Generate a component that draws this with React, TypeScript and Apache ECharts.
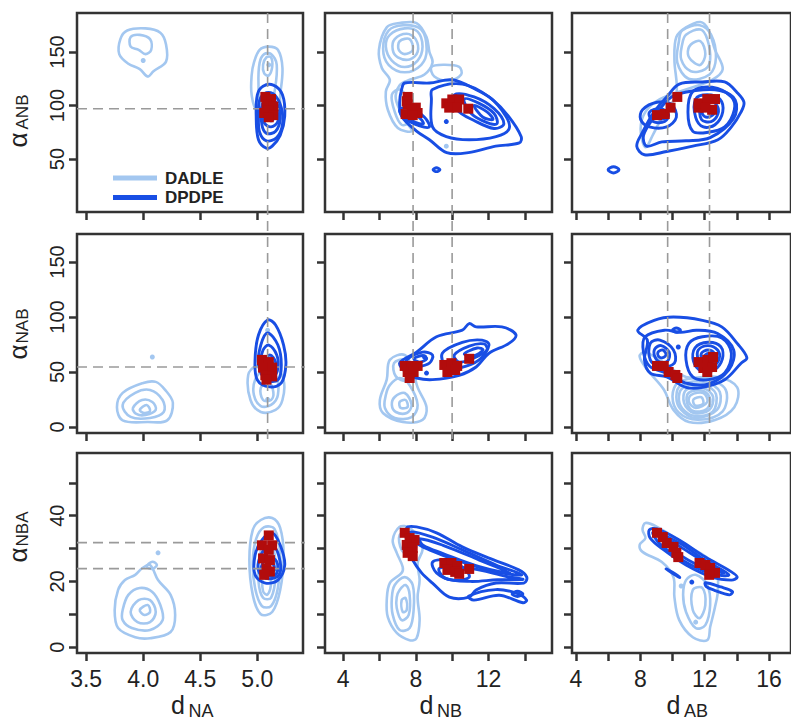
import React, { useEffect, useRef } from 'react';
import * as echarts from 'echarts';

// ---------- axes ----------
const xRanges = [[3.42, 5.40], [3.0, 15.5], [3.76, 17.36]];
const yRanges = [[0.5, 186.4], [-5.5, 175.5], [-1.8, 59.1]];
const xTicks = [[3.5, 4.0, 4.5, 5.0], [4, 6, 8, 10, 12, 14], [4, 6, 8, 10, 12, 14, 16]];
const xTickLabels = [[3.5, 4.0, 4.5, 5.0], [4, 8, 12], [4, 8, 12, 16]];
const yTicks = [[50, 100, 150], [0, 50, 100, 150], [0, 10, 20, 30, 40, 50]];
const yTickLabels = [[50, 100, 150], [0, 50, 100, 150], [0, 20, 40]];
const xTitles = [['d', 'NA'], ['d', 'NB'], ['d', 'AB']];
const yTitles = [['α', 'ANB'], ['α', 'NAB'], ['α', 'NBA']];
const vLines = [[5.09], [7.85, 10.0], [9.7, 12.3]];
const hLines = [[97], [54.5], [31.8, 23.9]];
const legendNames = ['DADLE', 'DPDPE'];

// ---------- panel (row 1, col 1) ----------
const light11 = [
  [[3.80, 162], [3.86, 170], [4.02, 172], [4.15, 168], [4.20, 157], [4.20, 141], [4.09, 132], [4.04, 127], [3.97, 134], [3.87, 139], [3.79, 148]],
  [[3.89, 164], [3.97, 166], [4.06, 162], [4.07, 152], [4.02, 148], [3.96, 152], [3.89, 155]],
  [[4.97, 140], [5.02, 152], [5.10, 155], [5.18, 152], [5.22, 135], [5.20, 110], [5.18, 95], [5.00, 95], [4.95, 110], [4.95, 128]],
  [[5.02, 140], [5.06, 148], [5.12, 148], [5.17, 138], [5.15, 112], [5.12, 100], [5.03, 102], [5.01, 120]],
  [[5.05, 138], [5.08, 145], [5.12, 145], [5.13, 136], [5.10, 128], [5.06, 130]],
];
const lightDots11 = [[4.0, 142], [5.10, 138]];
const dark11 = [
  [[5.00, 110], [5.05, 118], [5.14, 119], [5.22, 110], [5.24, 90], [5.20, 72], [5.13, 62], [5.08, 60], [5.01, 68], [4.99, 90]],
  [[5.02, 105], [5.08, 112], [5.15, 110], [5.21, 98], [5.22, 82], [5.17, 70], [5.08, 67], [5.02, 75], [5.01, 90]],
  [[5.04, 100], [5.10, 106], [5.17, 102], [5.20, 88], [5.16, 76], [5.08, 74], [5.04, 82]],
  [[5.06, 96], [5.11, 100], [5.17, 95], [5.18, 85], [5.12, 80], [5.06, 84]],
  [[5.08, 93], [5.12, 96], [5.15, 91], [5.13, 86], [5.09, 87]],
];
const darkDots11 = [];
const red11 = [[5.07, 108], [5.12, 106], [5.08, 101], [5.14, 99], [5.10, 95], [5.06, 93], [5.14, 91], [5.10, 89]];

// ---------- panel (1,2) ----------
const light12 = [
  [[6.40, 173], [7.11, 177], [8.04, 177], [8.59, 164], [8.75, 150], [8.92, 140], [8.48, 129], [7.66, 124], [7.11, 119], [6.90, 106], [7.39, 87], [7.77, 76], [7.01, 79], [6.46, 96], [6.35, 113], [6.57, 124], [6.13, 135], [5.97, 152]],
  [[6.57, 166], [7.39, 172], [8.10, 169], [8.37, 155], [8.10, 142], [7.39, 136], [6.68, 142], [6.35, 155]],
  [[6.84, 162], [7.50, 167], [7.99, 162], [8.10, 150], [7.66, 143], [7.01, 145], [6.73, 152]],
  [[7.11, 160], [7.66, 162], [7.83, 152], [7.39, 148], [7.06, 152]],
  [[8.86, 136], [9.57, 138], [10.39, 136], [10.50, 129], [9.84, 123], [9.02, 127]],
  [[6.68, 110], [7.11, 115], [7.55, 106], [7.66, 85], [7.22, 82], [6.84, 94]],
  [[6.5, 170], [7.3, 175], [8.3, 171], [8.6, 152], [8.3, 138], [7.4, 131], [6.5, 138], [6.2, 153]],
];
const lightDots12 = [[9.68, 62]];
const dark12 = [
  [[7.22, 115], [7.39, 121], [8.75, 121], [10.0, 124], [11.3, 115], [12.2, 106], [13.1, 90], [13.8, 71], [13.7, 65], [12.4, 62], [10.9, 56], [9.7, 56], [8.75, 68], [8.04, 76], [7.22, 90], [7.11, 103]],
  [[8.92, 115], [10.56, 120], [12.03, 108], [12.96, 90], [13.13, 78], [12.42, 71], [10.94, 68], [9.68, 71], [8.92, 80], [8.86, 106]],
  [[7.11, 96], [7.66, 98], [8.48, 89], [8.75, 80], [8.21, 81], [7.39, 88]],
  [[7.55, 92], [8.10, 90], [8.42, 83], [7.88, 85]],
  [[10.12, 110], [11.21, 108], [12.31, 97], [12.85, 83], [12.31, 78.5], [11.21, 86], [10.28, 96]],
  [[10.67, 106], [11.49, 102], [12.31, 92.5], [12.47, 83], [11.92, 84], [11.05, 92.5]],
  [[11.21, 100], [11.92, 94], [12.25, 87], [11.70, 89]],
  [[8.95, 40], [9.14, 41.8], [9.33, 40], [9.14, 38.2]],
];
const darkDots12 = [[9.68, 85]];
const red12 = [[7.55, 108], [7.5, 104], [7.55, 101], [8.0, 98], [7.77, 96], [8.10, 93], [7.44, 92], [7.83, 91], [9.68, 102], [10.01, 105.6], [10.39, 105.6], [9.84, 98], [10.28, 98], [10.89, 97]];

// ---------- panel (1,3) ----------
const light13 = [
  [[10.84, 173], [11.74, 178], [12.22, 171], [12.64, 152], [13.12, 134], [12.46, 124], [10.84, 115], [9.22, 106], [8.32, 94], [8.02, 78], [8.32, 61], [8.80, 73], [9.52, 94], [10.24, 110], [10.12, 143], [10.24, 164]],
  [[10.84, 166], [11.74, 171], [12.16, 162], [12.34, 143], [12.04, 134], [11.14, 132], [10.54, 143], [10.60, 157]],
  [[11.14, 157], [11.74, 160], [12.04, 148], [11.74, 138], [11.26, 141], [10.96, 148]],
  [[10.6, 170], [11.7, 175], [12.4, 166], [12.7, 145], [12.3, 129], [11.0, 125], [10.3, 140], [10.4, 160]],
];
const lightDots13 = [];
const dark13 = [
  [[10.42, 120], [11.86, 122], [13.24, 122], [14.02, 112], [14.44, 103], [14.26, 94], [13.66, 80], [12.82, 68], [11.26, 62], [9.64, 57], [8.26, 54], [7.78, 62], [8.14, 75], [8.86, 94], [9.64, 108]],
  [[8.9, 90], [9.94, 108], [11.44, 114], [12.94, 114], [13.9, 105], [13.8, 88], [12.34, 70], [10.84, 67], [9.34, 66], [8.4, 62], [8.2, 72]],
  [[11.26, 113], [12.46, 117], [13.66, 108], [13.84, 96], [13.24, 80], [12.22, 75], [11.26, 76], [10.96, 94]],
  [[11.44, 106], [12.16, 110], [12.94, 106], [13.12, 94], [12.64, 82], [11.92, 80], [11.44, 89]],
  [[11.74, 101], [12.22, 105], [12.76, 100], [12.82, 92], [12.40, 85], [11.80, 87]],
  [[11.92, 98], [12.40, 99], [12.58, 92.5], [12.16, 89], [11.86, 92]],
  [[8.14, 96], [9.04, 103], [9.94, 101], [10.24, 89], [9.64, 80], [8.56, 80], [8.02, 87]],
  [[8.56, 93.5], [9.28, 97], [9.76, 91.6], [9.52, 85], [8.80, 85]],
  [[8.92, 91.6], [9.40, 92.5], [9.52, 88], [9.04, 88]],
  [[6.0, 40], [6.34, 42.8], [6.68, 40], [6.34, 37]],
];
const darkDots13 = [];
const red13 = [[9.04, 91], [9.52, 92], [9.88, 98], [10.30, 108], [11.62, 98], [11.62, 102], [12.16, 106], [12.64, 106], [12.46, 96], [12.04, 98]];

// ---------- panel (2,1) ----------
const light21 = [
  [[3.77, 18], [3.82, 31], [4.0, 40], [4.11, 41], [4.19, 34], [4.26, 22], [4.21, 6], [4.04, 4.5], [3.82, 6]],
  [[3.82, 20], [3.93, 31], [4.06, 33.6], [4.17, 24.5], [4.18, 13.6], [4.06, 8.2], [3.89, 9.1]],
  [[3.91, 17.3], [3.99, 24.5], [4.08, 22.7], [4.11, 15.5], [4.02, 10.9], [3.94, 11.8]],
  [[3.97, 15.5], [4.03, 20], [4.06, 14.5], [4.01, 12.7]],
  [[4.92, 47.3], [4.99, 55.5], [5.14, 56.4], [5.23, 42.7], [5.22, 24.5], [5.16, 15.5], [5.03, 13.6], [4.94, 24.5]],
  [[4.98, 42.7], [5.06, 51.8], [5.16, 47.3], [5.18, 29], [5.12, 20], [5.03, 19], [4.97, 29]],
  [[5.03, 35.5], [5.10, 41], [5.14, 31.8], [5.12, 24.5], [5.05, 24.5]],
];
const lightDots21 = [[4.08, 63.6], [5.09, 25], [5.09, 88]];
const dark21 = [
  [[5.09, 97.3], [5.16, 92.7], [5.23, 74.5], [5.25, 56.4], [5.21, 40], [5.11, 36.4], [5.0, 42.7], [4.98, 61], [5.01, 83.6]],
  [[5.09, 85.5], [5.18, 74.5], [5.21, 56.4], [5.18, 42.7], [5.08, 42.7], [5.01, 56.4], [5.03, 74.5]],
  [[5.10, 74.5], [5.17, 65.5], [5.18, 53.6], [5.14, 45.5], [5.06, 47.3], [5.03, 59], [5.05, 70]],
  [[5.11, 65.5], [5.16, 59], [5.16, 50], [5.09, 50], [5.06, 59]],
  [[5.10, 62], [5.14, 57], [5.12, 52], [5.08, 55]],
];
const darkDots21 = [];
const red21 = [[5.04, 61], [5.10, 59], [5.05, 54], [5.13, 54], [5.07, 47], [5.13, 46], [5.08, 43]];

// ---------- panel (2,2) ----------
const light22 = [
  [[6.57, 61], [7.39, 65.5], [7.83, 52], [8.10, 36], [8.59, 18], [8.37, 6.4], [7.28, 4.5], [6.19, 12.7], [6.02, 24.5], [6.40, 43]],
  [[6.57, 38], [7.11, 44.5], [7.66, 38], [8.10, 20], [7.77, 9], [6.84, 8.2], [6.30, 17.3], [6.35, 29]],
  [[6.84, 27.3], [7.39, 30.9], [7.77, 20], [7.50, 12.7], [6.90, 13.6], [6.68, 20]],
  [[7.11, 22.7], [7.44, 24.5], [7.55, 18.2], [7.17, 17.3]],
  [[6.8, 58], [7.4, 61], [7.7, 50], [7.5, 42], [6.9, 46]],
];
const lightDots22 = [];
const dark22 = [
  [[7.11, 58], [8.04, 68], [9.14, 82], [10.56, 88], [10.94, 94], [11.32, 91], [12.74, 91], [13.51, 84], [13.13, 76], [12.03, 67], [11.32, 54.5], [10.39, 47], [8.92, 43], [8.04, 44.5], [7.50, 49]],
  [[9.46, 67], [10.56, 77], [11.65, 79], [12.03, 74.5], [11.49, 61], [10.39, 53.6], [9.68, 54.5]],
  [[10.12, 65.5], [10.94, 73.6], [11.76, 75.5], [11.92, 70], [11.21, 62.7], [10.39, 59]],
  [[10.67, 66.4], [11.38, 71.8], [11.70, 70], [11.16, 64.5]],
  [[7.50, 61], [8.37, 68], [8.92, 65.5], [8.75, 58], [8.04, 54.5], [7.55, 55]],
  [[7.9, 62], [8.4, 65], [8.6, 62], [8.2, 59]],
];
const darkDots22 = [[8.48, 63.6], [8.59, 49]];
const red22 = [[7.39, 55.5], [7.77, 55.5], [8.10, 55.5], [7.55, 50], [7.88, 50], [7.66, 44.5], [9.57, 56.4], [9.96, 58], [10.28, 55.5], [9.74, 50], [10.17, 51.8], [10.94, 62]];

// ---------- panel (2,3) ----------
const light23 = [
  [[8.26, 68], [9.22, 61], [10.84, 45.5], [12.82, 45.5], [14.02, 36], [13.84, 18], [12.64, 6.4], [11.02, 4.5], [10.06, 15.5], [9.46, 34], [8.44, 52], [7.96, 64]],
  [[10.4, 41], [12.1, 43.5], [13.3, 34], [13.1, 14], [11.6, 6.5], [10.4, 13], [10.0, 28]],
  [[10.54, 38], [12.04, 40.9], [12.94, 31.8], [12.76, 15.5], [11.44, 8.2], [10.54, 15.5], [10.24, 27.3]],
  [[10.7, 36], [11.9, 38.5], [12.7, 30], [12.5, 14], [11.4, 10], [10.6, 17], [10.4, 28]],
  [[10.84, 33.6], [11.92, 35.5], [12.52, 27.3], [12.28, 15.5], [11.32, 12.7], [10.72, 21.8]],
  [[11.0, 31], [11.9, 33], [12.35, 25], [12.1, 16], [11.3, 14.5], [10.9, 22]],
  [[11.14, 29], [11.92, 30.9], [12.16, 22.7], [11.44, 17.3], [11.02, 22.7]],
  [[11.3, 25], [11.8, 27], [11.9, 21], [11.4, 19.5]],
];
const lightDots23 = [];
const dark23 = [
  [[7.84, 88], [8.86, 97], [10.06, 100], [11.86, 97], [13.06, 91], [14.02, 76], [14.62, 63], [14.26, 58], [13.24, 43], [11.86, 36], [10.84, 36], [9.64, 45.5], [8.62, 49], [8.26, 61], [8.44, 79]],
  [[8.3, 82], [9.5, 88], [10.5, 86], [11.5, 88], [12.8, 85], [13.8, 70], [13.5, 52], [12.2, 39], [10.8, 40], [9.8, 48], [8.6, 55], [8.2, 68]],
  [[11.02, 76], [11.86, 82], [13.06, 81], [13.66, 67], [13.24, 49], [12.22, 43], [11.26, 45.5], [10.84, 61]],
  [[11.4, 72], [12.2, 77], [13.0, 73], [13.1, 62], [12.6, 52], [11.8, 51], [11.3, 60]],
  [[11.6, 70], [12.2, 74], [12.8, 70], [12.9, 62], [12.5, 55], [11.9, 55], [11.6, 61]],
  [[11.8, 67], [12.2, 70], [12.6, 67], [12.6, 61], [12.2, 58], [11.9, 60]],
  [[12.0, 65], [12.3, 67], [12.5, 64], [12.3, 61], [12.0, 62]],
  [[8.62, 76], [9.22, 79], [10.06, 70], [10.12, 58], [9.22, 54.5], [8.62, 61]],
  [[8.9, 71], [9.3, 74], [9.8, 68], [9.7, 60], [9.2, 59], [8.9, 64]],
  [[9.1, 68], [9.4, 70], [9.6, 66], [9.4, 63], [9.15, 64]],
  [[10.0, 88], [10.24, 90], [10.5, 88], [10.24, 86]],
];
const darkDots23 = [[10.36, 72.7]];
const red23 = [[9.04, 55.5], [9.46, 55.5], [9.76, 50], [10.18, 47.3], [10.30, 44.5], [11.62, 59], [12.16, 61], [12.52, 63.6], [11.92, 53.6], [12.46, 54.5], [12.16, 50]];

// ---------- panel (3,1) ----------
const light31 = [
  [[3.75, 11.3], [3.78, 17.4], [3.84, 20.4], [3.93, 22], [3.99, 24], [4.06, 25], [4.13, 20.4], [4.24, 15.9], [4.28, 9.8], [4.24, 4.6], [4.06, 2.7], [3.93, 3], [3.78, 5.8]],
  [[3.82, 11.3], [3.87, 15.9], [3.97, 18], [4.08, 16.8], [4.15, 12.8], [4.17, 8.2], [4.06, 5.2], [3.90, 5.8], [3.82, 8.2]],
  [[3.89, 10.7], [3.96, 14.3], [4.06, 14.3], [4.11, 10.7], [4.06, 7.6], [3.95, 7.6]],
  [[3.97, 11.3], [4.04, 12.8], [4.06, 10.7], [4.01, 9.8]],
  [[4.03, 24.5], [4.08, 26], [4.12, 25], [4.08, 23.8]],
  [[4.96, 35.7], [5.03, 38.7], [5.13, 39.3], [5.20, 36.3], [5.23, 28], [5.20, 17.4], [5.13, 10.7], [5.03, 10], [4.96, 15.9], [4.93, 26.5]],
  [[4.99, 33], [5.06, 36.5], [5.15, 36], [5.20, 28], [5.18, 18], [5.12, 12.5], [5.04, 12.5], [4.98, 18], [4.96, 26]],
  [[5.02, 28], [5.08, 32], [5.14, 30], [5.16, 22], [5.12, 15], [5.05, 15], [5.01, 20]],
  [[5.05, 22], [5.09, 24], [5.12, 20], [5.09, 16], [5.05, 17]],
];
const lightDots31 = [[4.13, 28.7]];
const dark31 = [
  [[4.98, 28], [5.04, 32.6], [5.13, 34.8], [5.20, 31.1], [5.24, 25], [5.18, 20.4], [5.07, 19.5], [4.98, 22]],
  [[5.01, 26], [5.07, 30], [5.14, 31], [5.20, 26], [5.19, 22], [5.10, 20.8], [5.02, 22.5]],
  [[5.04, 25], [5.10, 27.5], [5.17, 26], [5.17, 22.5], [5.10, 21.8], [5.04, 23]],
  [[5.08, 24.5], [5.13, 25.5], [5.15, 23.5], [5.10, 22.8]],
];
const darkDots31 = [];
const red31 = [[5.10, 34], [5.04, 31], [5.13, 31], [5.10, 29.6], [5.05, 27], [5.11, 26.5], [5.08, 24], [5.11, 23], [5.06, 22]];

// ---------- panel (3,2) ----------
const light32 = [
  [[7.11, 36.6], [7.66, 36.3], [8.21, 32.6], [8.37, 29.6], [8.10, 25.6], [8.21, 20.4], [8.10, 15.2], [8.21, 8.2], [8.04, 2.7], [7.66, 2.1], [6.95, 4.3], [6.46, 9.1], [6.40, 14.3], [6.57, 19.5], [7.22, 22.6], [7.28, 24.4], [6.95, 28.7], [6.73, 32.6]],
  [[6.84, 18.9], [7.39, 21.3], [7.83, 18.9], [7.88, 11.3], [7.66, 5.8], [7.11, 5.2], [6.73, 9.8], [6.68, 15]],
  [[7.11, 17.4], [7.44, 18.9], [7.66, 15.9], [7.61, 9.8], [7.22, 8.2], [6.95, 11.9], [6.95, 15.2]],
  [[7.22, 14.3], [7.44, 14.9], [7.50, 11.3], [7.28, 10.7]],
  [[7.11, 34.1], [7.66, 34.8], [8.04, 31.1], [7.66, 28], [7.22, 29.6]],
];
const lightDots32 = [];
const dark32 = [
  [[7.50, 36.3], [8.04, 36.6], [9.14, 34.8], [10.56, 30.5], [12.03, 27.1], [13.67, 23.5], [14.11, 21.3], [13.95, 19.5], [12.42, 19.5], [11.32, 17.4], [10.94, 15.2], [9.85, 15.2], [8.92, 19.5], [8.32, 22.6], [7.83, 26.5], [7.55, 30.5]],
  [[10.9, 15.5], [12.4, 17.5], [13.6, 16.3], [14.1, 14.3], [13.9, 13.5], [12.6, 15.8], [11.2, 14.3]],
  [[13.3, 16.2], [13.6, 17], [13.9, 16.2], [13.6, 15.4]],
  [[7.66, 35], [8.92, 33.5], [10.56, 29.6], [12.42, 25], [13.84, 22], [12.42, 22.9], [10.23, 26.5], [8.75, 29.6], [8.04, 31.7]],
  [[8.2, 33], [9.5, 31], [11.5, 26.5], [13.2, 22.5], [11.5, 24.5], [9.5, 28.5], [8.4, 31]],
  [[8.92, 25.9], [9.68, 26.5], [10.56, 24.4], [10.94, 21.3], [10.01, 20.4], [9.14, 22.6]],
  [[9.3, 24], [11, 24], [13, 21.5], [13.9, 20.6], [12.5, 20.5], [11, 20], [9.6, 21]],
];
const darkDots32 = [];
const red32 = [[7.39, 34.8], [7.66, 33.2], [7.93, 32.6], [7.50, 31.1], [7.83, 30.2], [7.55, 28.7], [7.83, 27.7], [9.57, 25.6], [9.96, 25.6], [10.28, 24.7], [9.74, 23.5], [10.17, 22.9], [10.39, 22.3], [10.94, 23.8]];

// ---------- panel (3,3) ----------
const light33 = [
  [[8.32, 37.8], [9.04, 36.6], [10.84, 31.1], [12.64, 25], [12.82, 17.4], [12.64, 12.2], [12.34, 6.1], [12.16, 2.1], [11.26, 3], [10.42, 8.2], [10.12, 15.2], [10.06, 21.3], [9.34, 25.9], [8.14, 29], [7.96, 31.1], [8.32, 33.2], [8.14, 35.7]],
  [[10.84, 20.4], [11.44, 22], [12.16, 18.9], [12.34, 12.8], [12.04, 6.7], [11.44, 5.8], [10.84, 10.7], [10.66, 15.9]],
  [[11.26, 17.4], [11.86, 18], [12.04, 12.8], [11.68, 8.8], [11.26, 11.3]],
];
const lightDots33 = [[10.54, 18.6], [11.44, 7.6]];
const dark33 = [
  [[8.56, 35.7], [9.04, 36], [10.42, 32.6], [12.04, 27.4], [13.66, 22.9], [14.02, 21.3], [13.66, 20.4], [12.46, 21.3], [10.84, 25], [9.46, 29.6], [8.62, 33.2]],
  [[8.8, 35], [10.4, 31.8], [12.0, 26.5], [13.5, 22], [12.3, 22.5], [10.6, 26.5], [9.2, 31.5]],
  [[9.2, 34], [10.5, 30.5], [12.2, 25.2], [13.2, 22.6], [11.8, 24.5], [10.2, 29]],
  [[9.6, 23.8], [10.0, 22.8], [10.45, 21.2], [10.1, 22.2]],
  [[12.04, 19.6], [13.0, 18.3], [13.72, 16.9], [13.54, 15.9], [12.6, 17.3], [12.1, 18.4]],
];
const darkDots33 = [[11.2, 19.8]];
const red33 = [[9.04, 34.8], [9.40, 33.5], [9.64, 31.7], [10.06, 30.5], [10.24, 28.7], [10.36, 27.4], [11.68, 25.6], [12.04, 25], [12.34, 24.1], [12.64, 22.6], [12.28, 22]];

const panels = [
  { light: light11, dark: dark11, red: red11, lDots: lightDots11, dDots: darkDots11 },
  { light: light12, dark: dark12, red: red12, lDots: lightDots12, dDots: darkDots12 },
  { light: light13, dark: dark13, red: red13, lDots: lightDots13, dDots: darkDots13 },
  { light: light21, dark: dark21, red: red21, lDots: lightDots21, dDots: darkDots21 },
  { light: light22, dark: dark22, red: red22, lDots: lightDots22, dDots: darkDots22 },
  { light: light23, dark: dark23, red: red23, lDots: lightDots23, dDots: darkDots23 },
  { light: light31, dark: dark31, red: red31, lDots: lightDots31, dDots: darkDots31 },
  { light: light32, dark: dark32, red: red32, lDots: lightDots32, dDots: darkDots32 },
  { light: light33, dark: dark33, red: red33, lDots: lightDots33, dDots: darkDots33 },
];

// ---------- styles / layout ----------
const LIGHT = 'rgb(163,199,240)';
const DARK = 'rgb(24,78,228)';
const RED = 'rgb(178,12,12)';
const AXIS = '#333';
const TEXT = '#222';
const FONT = '"Liberation Sans", Arial, Helvetica, sans-serif';
const colX = [77, 325, 572];
const colW = [226, 227, 227];
const rowY = [13, 234, 453];
const rowH = [199, 199, 200];
const W = 791;
const H = 720;

function contourSeries(polys, color, width, idx, name, z) {
  return {
    type: 'custom',
    name,
    xAxisIndex: idx,
    yAxisIndex: idx,
    coordinateSystem: 'cartesian2d',
    z,
    silent: true,
    itemStyle: { color },
    data: polys.map((p) => [p[0][0], p[0][1]]),
    renderItem: (params, api) => {
      const poly = polys[params.dataIndex];
      const pts = poly.map((p) => api.coord(p));
      return {
        type: 'polygon',
        shape: { points: pts, smooth: 0.35 },
        style: { fill: 'none', stroke: color, lineWidth: width, lineJoin: 'round' },
      };
    },
  };
}

function buildOption() {
  const grid = [];
  const xAxis = [];
  const yAxis = [];
  const series = [];
  for (let r = 0; r < 3; r++) {
    for (let c = 0; c < 3; c++) {
      const i = r * 3 + c;
      grid.push({ left: colX[c], top: rowY[r], width: colW[c], height: rowH[r], show: true, borderColor: AXIS, borderWidth: 2.5 });
      xAxis.push({
        type: 'value', gridIndex: i, min: xRanges[c][0], max: xRanges[c][1],
        axisLine: { show: false, onZero: false }, splitLine: { show: false },
        axisTick: { show: true, length: 8, customValues: xTicks[c], lineStyle: { color: AXIS, width: 2.5 } },
        axisLabel: {
          show: r === 2, customValues: xTickLabels[c], fontSize: 23, color: TEXT, fontFamily: FONT, margin: 14,
          formatter: (v) => (c === 0 ? Number(v).toFixed(1) : String(v)),
        },
      });
      yAxis.push({
        type: 'value', gridIndex: i, min: yRanges[r][0], max: yRanges[r][1],
        axisLine: { show: false, onZero: false }, splitLine: { show: false },
        axisTick: { show: true, length: 8, customValues: yTicks[r], lineStyle: { color: AXIS, width: 2.5 } },
        axisLabel: { show: c === 0, customValues: yTickLabels[r], rotate: 90, fontSize: 20, color: TEXT, fontFamily: FONT, margin: 10 },
      });
      const p = panels[i];
      series.push(contourSeries(p.light, LIGHT, 2.6, i, legendNames[0], 2));
      series.push(contourSeries(p.dark, DARK, 2.9, i, legendNames[1], 3));
      if (p.lDots.length) series.push({ type: 'scatter', xAxisIndex: i, yAxisIndex: i, data: p.lDots, symbol: 'circle', symbolSize: 5, itemStyle: { color: LIGHT, opacity: 1 }, z: 2, silent: true });
      if (p.dDots.length) series.push({ type: 'scatter', xAxisIndex: i, yAxisIndex: i, data: p.dDots, symbol: 'circle', symbolSize: 5, itemStyle: { color: DARK, opacity: 1 }, z: 3, silent: true });
      series.push({ type: 'scatter', xAxisIndex: i, yAxisIndex: i, data: p.red, symbol: 'rect', symbolSize: 10, itemStyle: { color: RED, opacity: 1 }, z: 6, silent: true });
    }
  }
  // dashed reference lines: vertical ones in the top-row panel of each column, horizontal in the first-column panel of each row
  const dash = { color: '#9a9a9a', width: 1.6, type: [10, 6] };
  for (let c = 0; c < 3; c++) {
    const [y0, y1] = yRanges[0];
    const perPx = (y1 - y0) / rowH[0];
    const yEnd = y0 - (670 - (rowY[0] + rowH[0])) * perPx;
    vLines[c].forEach((v) => {
      series.push({ type: 'line', xAxisIndex: c, yAxisIndex: c, data: [[v, y1], [v, yEnd]], showSymbol: false, clip: false, silent: true, z: 4, lineStyle: dash });
    });
  }
  for (let r = 0; r < 3; r++) {
    const i = r * 3;
    const [x0, x1] = xRanges[0];
    const perPx = (x1 - x0) / colW[0];
    const xEnd = x1 + (W + 10 - (colX[0] + colW[0])) * perPx;
    hLines[r].forEach((v) => {
      series.push({ type: 'line', xAxisIndex: i, yAxisIndex: i, data: [[x0, v], [xEnd, v]], showSymbol: false, clip: false, silent: true, z: 4, lineStyle: dash });
    });
  }

  const graphic = [];
  // axis titles
  const yMain = [[18, 140], [18, 352], [18, 555]];
  const ySub = [[22.5, 112], [22.5, 326], [22.5, 529]];
  for (let r = 0; r < 3; r++) {
    graphic.push({ type: 'text', x: yMain[r][0], y: yMain[r][1], rotation: Math.PI / 2, style: { text: yTitles[r][0], fontSize: 26, fontFamily: FONT, fill: TEXT, align: 'center', verticalAlign: 'middle' } });
    graphic.push({ type: 'text', x: ySub[r][0], y: ySub[r][1], rotation: Math.PI / 2, style: { text: yTitles[r][1], fontSize: 17, fontFamily: FONT, fill: TEXT, align: 'center', verticalAlign: 'middle' } });
  }
  for (let c = 0; c < 3; c++) {
    const cx = colX[c] + colW[c] / 2;
    graphic.push({ type: 'text', x: cx - 12, y: 705, style: { text: xTitles[c][0], fontSize: 25, fontFamily: FONT, fill: TEXT, align: 'center', verticalAlign: 'middle' } });
    graphic.push({ type: 'text', x: cx - 1.5, y: 710.5, style: { text: xTitles[c][1], fontSize: 18, lineHeight: 18, fontFamily: FONT, fill: TEXT, align: 'left', verticalAlign: 'middle' } });
  }
  // legend inside the first panel
  graphic.push({ type: 'rect', x: 113, y: 175.5, shape: { width: 44, height: 5 }, style: { fill: LIGHT } });
  graphic.push({ type: 'rect', x: 113, y: 195, shape: { width: 44, height: 5 }, style: { fill: DARK } });
  graphic.push({ type: 'text', x: 165, y: 178, style: { text: legendNames[0], fontSize: 17, lineHeight: 17, fontWeight: 'bold', fontFamily: FONT, fill: TEXT, align: 'left', verticalAlign: 'middle' } });
  graphic.push({ type: 'text', x: 165, y: 197.5, style: { text: legendNames[1], fontSize: 17, lineHeight: 17, fontWeight: 'bold', fontFamily: FONT, fill: TEXT, align: 'left', verticalAlign: 'middle' } });

  return { animation: false, backgroundColor: '#fff', grid, xAxis, yAxis, series, graphic };
}

export default function App() {
  const ref = useRef(null);
  useEffect(() => {
    const chart = echarts.init(ref.current, null, { renderer: 'svg' });
    chart.setOption(buildOption());
    return () => chart.dispose();
  }, []);
  return <div ref={ref} style={{ position: 'absolute', left: 0, top: 0, width: W, height: H, background: '#fff' }} />;
}
